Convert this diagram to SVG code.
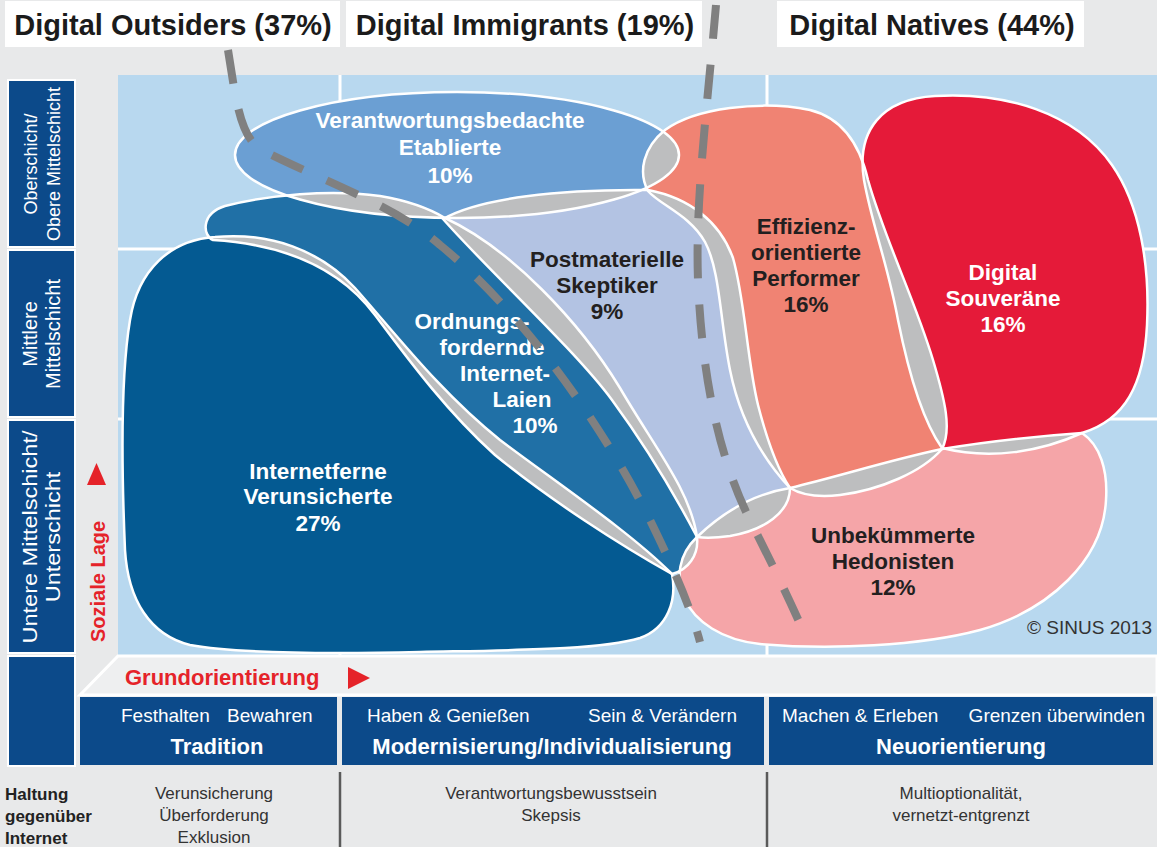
<svg xmlns="http://www.w3.org/2000/svg" xmlns:xlink="http://www.w3.org/1999/xlink" width="1157" height="847" viewBox="0 0 1157 847">
<style>
.sans{font-family:"Liberation Sans",Arial,sans-serif}
.hdr{font-family:"Liberation Sans",Arial,sans-serif;font-weight:bold;font-size:29px;fill:#1b1b1b;text-anchor:middle}
.lbl{font-family:"Liberation Sans",Arial,sans-serif;font-weight:bold;font-size:22.5px;text-anchor:middle}
.wt{fill:#ffffff}
.dk{fill:#231f20}
.ov{fill:#bdbebf}
.ol{fill:none;stroke:#ffffff;stroke-width:2.5}
.dash{fill:none;stroke:#808080;stroke-width:8;stroke-dasharray:34 26}
.axis{font-family:"Liberation Sans",Arial,sans-serif;fill:#ffffff;text-anchor:middle}
.bar{fill:#0c4a8a}
.barsm{font-family:"Liberation Sans",Arial,sans-serif;font-size:19px;fill:#ffffff}
.barbd{font-family:"Liberation Sans",Arial,sans-serif;font-size:22px;font-weight:bold;fill:#ffffff;text-anchor:middle}
.att{font-family:"Liberation Sans",Arial,sans-serif;font-size:17px;fill:#333333;text-anchor:middle}
.red{fill:#e52329}
.grid{stroke:#ffffff;stroke-width:3}
</style>
<defs>
<ellipse id="sEta" cx="457" cy="155" rx="222" ry="63"/>
<path id="sLai" d="M 213,240 C 203,236 200,214 225,206 C 268,195 330,189 380,196 C 410,201 430,209 445,218 C 510,248 580,322 620,388 C 655,448 690,490 697,537 C 699,555 688,570 672,574 C 620,545 550,500 495,455 C 445,410 405,355 375,315 C 345,275 295,245 213,240 Z"/>
<path id="sInt" d="M 672,574 C 677,600 668,628 640,638 C 600,650 520,650 420,652 C 330,654 240,654 190,645 C 150,635 128,600 125,550 C 122,480 120,380 130,320 C 138,270 170,240 215,237 C 270,232 320,250 355,288 C 395,333 440,392 500,440 C 560,485 630,532 672,574 Z"/>
<path id="sPos" d="M 443,219 C 480,198 560,189 648,190 C 690,198 720,222 733,258 C 745,300 747,360 758,405 C 767,440 778,470 790,488 C 790,512 765,530 730,536 C 715,538 705,538 697,537 C 675,495 645,445 612,400 C 575,350 490,272 443,219 Z"/>
<path id="sPer" d="M 790,488 C 762,458 740,420 730,370 C 720,320 720,270 705,242 C 690,215 660,205 648,191 C 638,172 643,148 665,130 C 695,108 760,100 810,110 C 842,118 860,145 868,180 C 885,240 915,300 933,360 C 945,400 952,430 942,449 C 922,472 880,490 840,495 C 815,498 800,494 790,488 Z"/>
<path id="sSou" d="M 942,448 C 922,420 908,370 898,320 C 888,265 872,225 864,180 C 856,130 882,99 935,96 C 1005,92 1075,112 1112,165 C 1140,205 1150,265 1147,325 C 1144,385 1125,420 1082,433 C 1040,452 990,460 942,448 Z"/>
<path id="sHed" d="M 697,537 C 722,513 752,494 790,488 C 840,476 890,460 942,449 C 990,441 1040,436 1082,433 C 1100,445 1108,470 1106,500 C 1103,560 1050,610 980,630 C 920,646 830,650 760,644 C 722,640 695,622 684,598 C 676,578 678,555 697,537 Z"/>
<clipPath id="cEta"><use xlink:href="#sEta"/></clipPath>
<clipPath id="cLai"><use xlink:href="#sLai"/></clipPath>
<clipPath id="cPos"><use xlink:href="#sPos"/></clipPath>
<clipPath id="cPer"><use xlink:href="#sPer"/></clipPath>
<clipPath id="cSou"><use xlink:href="#sSou"/></clipPath>
</defs>

<rect x="0" y="0" width="1157" height="847" fill="#e8e9ea"/>

<g id="headers">
<rect x="5" y="1" width="335" height="46" fill="#ffffff"/>
<text class="hdr" x="173" y="35">Digital Outsiders (37%)</text>
<rect x="346" y="1" width="356" height="46" fill="#ffffff"/>
<text class="hdr" x="525" y="35">Digital Immigrants (19%)</text>
<rect x="777" y="1" width="307" height="46" fill="#ffffff"/>
<text class="hdr" x="932" y="35">Digital Natives (44%)</text>
</g>

<g id="chart">
<rect x="118" y="75" width="1039" height="580" fill="#b8d8ef"/>
<line class="grid" x1="340" y1="75" x2="340" y2="655"/>
<line class="grid" x1="767" y1="75" x2="767" y2="655"/>
<line class="grid" x1="118" y1="249" x2="1157" y2="249"/>
<line class="grid" x1="118" y1="419" x2="1157" y2="419"/>
<polygon points="118,656 1157,656 1157,695 80,695" fill="#eeeff0" stroke="#ffffff" stroke-width="3"/>
</g>

<g id="y-axis">
<rect class="bar" x="8" y="80" width="67" height="167" stroke="#ffffff" stroke-width="2"/>
<rect class="bar" x="8" y="250" width="67" height="167" stroke="#ffffff" stroke-width="2"/>
<rect class="bar" x="8" y="420" width="67" height="233" stroke="#ffffff" stroke-width="2"/>
<rect class="bar" x="8" y="656" width="67" height="110" stroke="#ffffff" stroke-width="2"/>
<g transform="translate(37,164) rotate(-90)"><text class="axis" font-size="18">Oberschicht/</text></g>
<g transform="translate(60,164) rotate(-90)"><text class="axis" font-size="18">Obere Mittelschicht</text></g>
<g transform="translate(37,334) rotate(-90)"><text class="axis" font-size="20">Mittlere</text></g>
<g transform="translate(60,334) rotate(-90)"><text class="axis" font-size="20">Mittelschicht</text></g>
<g transform="translate(37,537) rotate(-90) scale(1.12,1)"><text class="axis" font-size="21">Untere Mittelschicht/</text></g>
<g transform="translate(60,537) rotate(-90) scale(1.12,1)"><text class="axis" font-size="21">Unterschicht</text></g>
<g transform="translate(105,642) rotate(-90)"><text class="sans red" font-size="20" font-weight="bold">Soziale Lage</text></g>
<polygon class="red" points="87,485 106,485 96.5,463"/>
</g>

<g id="x-axis">
<text class="sans red" x="125" y="685" font-size="22" font-weight="bold">Grundorientierung</text>
<polygon class="red" points="348,667 348,689 370,678"/>
<rect class="bar" x="80" y="697" width="257" height="68"/>
<rect class="bar" x="342" y="697" width="422" height="68"/>
<rect class="bar" x="769" y="697" width="384" height="68"/>
<text class="barsm" x="121" y="722">Festhalten</text>
<text class="barsm" x="227" y="722">Bewahren</text>
<text class="barbd" x="217" y="754">Tradition</text>
<text class="barsm" x="367" y="722">Haben &amp; Genießen</text>
<text class="barsm" x="737" y="722" text-anchor="end">Sein &amp; Verändern</text>
<text class="barbd" x="552" y="754">Modernisierung/Individualisierung</text>
<text class="barsm" x="782" y="722">Machen &amp; Erleben</text>
<text class="barsm" x="1145" y="722" text-anchor="end">Grenzen überwinden</text>
<text class="barbd" x="961" y="754">Neuorientierung</text>
</g>

<g id="attitudes">
<text class="sans" x="5" y="800" font-size="17" font-weight="bold" fill="#222222">Haltung</text>
<text class="sans" x="5" y="822" font-size="17" font-weight="bold" fill="#222222">gegenüber</text>
<text class="sans" x="5" y="844" font-size="17" font-weight="bold" fill="#222222">Internet</text>
<text class="att" x="214" y="799">Verunsicherung</text>
<text class="att" x="214" y="821">Überforderung</text>
<text class="att" x="214" y="843">Exklusion</text>
<text class="att" x="551" y="799">Verantwortungsbewusstsein</text>
<text class="att" x="551" y="821">Skepsis</text>
<text class="att" x="961" y="799">Multioptionalität,</text>
<text class="att" x="961" y="821">vernetzt-entgrenzt</text>
<line x1="340" y1="772" x2="340" y2="847" stroke="#5a5a5a" stroke-width="2.5"/>
<line x1="767" y1="772" x2="767" y2="847" stroke="#5a5a5a" stroke-width="2.5"/>
</g>

<g id="node-etablierte">
<use xlink:href="#sEta" fill="#6b9fd3"/>
<text class="lbl wt" x="450" y="128">Verantwortungsbedachte</text>
<text class="lbl wt" x="450" y="155">Etablierte</text>
<text class="lbl wt" x="450" y="183">10%</text>
</g>
<g id="node-laien">
<use xlink:href="#sLai" fill="#2070a6"/>
<text class="lbl wt" x="472" y="329">Ordnungs-</text>
<text class="lbl wt" x="492" y="355">fordernde</text>
<text class="lbl wt" x="505" y="381">Internet-</text>
<text class="lbl wt" x="522" y="407">Laien</text>
<text class="lbl wt" x="535" y="433">10%</text>
</g>
<g id="node-internetferne">
<use xlink:href="#sInt" fill="#045a92"/>
<text class="lbl wt" x="318" y="479">Internetferne</text>
<text class="lbl wt" x="318" y="504">Verunsicherte</text>
<text class="lbl wt" x="318" y="531">27%</text>
</g>
<g id="node-postmaterielle">
<use xlink:href="#sPos" fill="#b3c3e3"/>
<text class="lbl dk" x="607" y="267">Postmaterielle</text>
<text class="lbl dk" x="607" y="293">Skeptiker</text>
<text class="lbl dk" x="607" y="319">9%</text>
</g>
<g id="node-performer">
<use xlink:href="#sPer" fill="#f08373"/>
<text class="lbl dk" x="806" y="234">Effizienz-</text>
<text class="lbl dk" x="806" y="260">orientierte</text>
<text class="lbl dk" x="806" y="286">Performer</text>
<text class="lbl dk" x="806" y="312">16%</text>
</g>
<g id="node-souveraene">
<use xlink:href="#sSou" fill="#e51a39"/>
<text class="lbl wt" x="1003" y="280">Digital</text>
<text class="lbl wt" x="1003" y="306">Souveräne</text>
<text class="lbl wt" x="1003" y="332">16%</text>
</g>
<g id="node-hedonisten">
<use xlink:href="#sHed" fill="#f5a5a8"/>
<text class="lbl dk" x="893" y="543">Unbekümmerte</text>
<text class="lbl dk" x="893" y="569">Hedonisten</text>
<text class="lbl dk" x="893" y="595">12%</text>
</g>

<g id="overlaps">
<g clip-path="url(#cEta)"><use xlink:href="#sLai" class="ov"/><use xlink:href="#sPos" class="ov"/><use xlink:href="#sPer" class="ov"/></g>
<g clip-path="url(#cLai)"><use xlink:href="#sInt" class="ov"/><use xlink:href="#sPos" class="ov"/><use xlink:href="#sHed" class="ov"/></g>
<g clip-path="url(#cPos)"><use xlink:href="#sPer" class="ov"/><use xlink:href="#sHed" class="ov"/></g>
<g clip-path="url(#cPer)"><use xlink:href="#sSou" class="ov"/><use xlink:href="#sHed" class="ov"/></g>
<g clip-path="url(#cSou)"><use xlink:href="#sHed" class="ov"/></g>
</g>

<g id="outlines">
<use xlink:href="#sEta" class="ol"/>
<use xlink:href="#sLai" class="ol"/>
<use xlink:href="#sInt" class="ol"/>
<use xlink:href="#sPos" class="ol"/>
<use xlink:href="#sPer" class="ol"/>
<use xlink:href="#sSou" class="ol"/>
<use xlink:href="#sHed" class="ol"/>
</g>

<g id="connectors">
<path class="dash" d="M 228,50 C 236,100 240,138 262,150 C 320,180 395,205 440,245 C 520,310 600,420 650,520 C 672,565 690,605 700,642"/>
<path class="dash" d="M 716,5 C 708,100 695,200 698,280 C 702,380 720,460 750,520 C 770,560 790,600 808,642"/>
</g>

<text class="sans" x="1152" y="634" font-size="19" fill="#333333" text-anchor="end">© SINUS 2013</text>
</svg>
